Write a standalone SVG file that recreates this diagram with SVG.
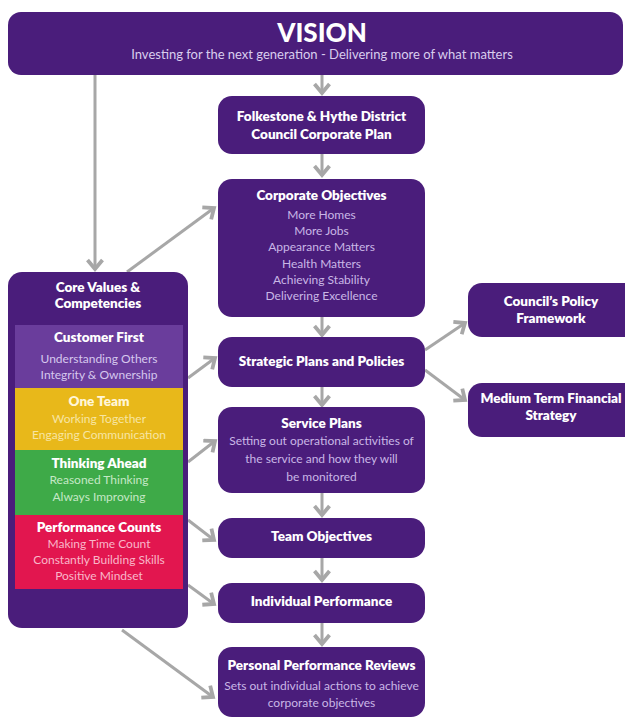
<svg xmlns="http://www.w3.org/2000/svg" width="625" height="720" viewBox="0 0 625 720">
<defs>
<marker id="chev" markerUnits="userSpaceOnUse" markerWidth="18" markerHeight="18" viewBox="0 0 18 18" refX="14" refY="9" orient="auto">
<path d="M5,1.5 L14,9 L5,16.5" fill="none" stroke="#a7a7a7" stroke-width="3.8" stroke-linejoin="miter"/>
</marker>
</defs>
<style>
.box{fill:#4a1d7b}
.t{font-family:Lato,"Open Sans",sans-serif;font-weight:800;fill:#ffffff;text-anchor:middle;font-size:13.5px}
.b{font-family:Lato,"Open Sans",sans-serif;font-weight:400;fill:#c9b7e6;text-anchor:middle;font-size:12px}
.c{stroke:#a7a7a7;stroke-width:3;fill:none}
.a{marker-end:url(#chev)}
</style>
<rect width="625" height="720" fill="#ffffff"/>

<g id="connectors">
<line class="c a" x1="322" y1="75" x2="322" y2="93"/>
<line class="c a" x1="322" y1="154" x2="322" y2="175"/>
<line class="c a" x1="322" y1="317" x2="322" y2="335"/>
<line class="c a" x1="322" y1="387" x2="322" y2="405"/>
<line class="c a" x1="322" y1="493" x2="322" y2="515"/>
<line class="c a" x1="322" y1="558" x2="322" y2="580"/>
<line class="c a" x1="322" y1="623" x2="322" y2="644"/>
<line class="c a" x1="95" y1="75" x2="95" y2="269"/>
<line class="c a" x1="127" y1="272" x2="214" y2="208"/>
<line class="c a" x1="188" y1="378" x2="215" y2="358"/>
<line class="c a" x1="188" y1="462" x2="215" y2="441"/>
<line class="c a" x1="188" y1="520" x2="214" y2="540"/>
<line class="c a" x1="188" y1="585" x2="214" y2="604"/>
<line class="c a" x1="122" y1="630" x2="213" y2="697"/>
<line class="c a" x1="425" y1="350" x2="465" y2="323"/>
<line class="c a" x1="425" y1="370" x2="465" y2="400"/>
</g>

<g id="vision">
<rect class="box" x="8" y="12" width="615" height="63" rx="13"/>
<text class="t" x="322" y="42" style="font-size:26px;font-weight:900">VISION</text>
<text class="b" x="322" y="59" style="font-size:13px;fill:#d9cdee">Investing for the next generation -  Delivering more of what matters</text>
</g>

<g id="corporate-plan">
<rect class="box" x="218" y="96" width="207" height="58" rx="14"/>
<text class="t" x="321.5" y="121">Folkestone &amp; Hythe District</text>
<text class="t" x="321.5" y="139">Council Corporate Plan</text>
</g>

<g id="corporate-objectives">
<rect class="box" x="218" y="179" width="207" height="138" rx="14"/>
<text class="t" x="321.5" y="200">Corporate Objectives</text>
<text class="b" x="321.5" y="219">More Homes</text>
<text class="b" x="321.5" y="235">More Jobs</text>
<text class="b" x="321.5" y="251">Appearance Matters</text>
<text class="b" x="321.5" y="268">Health Matters</text>
<text class="b" x="321.5" y="284">Achieving Stability</text>
<text class="b" x="321.5" y="300">Delivering Excellence</text>
</g>

<g id="strategic-plans">
<rect class="box" x="218" y="337" width="207" height="50" rx="14"/>
<text class="t" x="321.5" y="366">Strategic Plans and Policies</text>
</g>

<g id="service-plans">
<rect class="box" x="218" y="407" width="207" height="86" rx="14"/>
<text class="t" x="321.5" y="428">Service Plans</text>
<text class="b" x="321.5" y="445">Setting out operational activities of</text>
<text class="b" x="321.5" y="463">the service and how they will</text>
<text class="b" x="321.5" y="481">be monitored</text>
</g>

<g id="team-objectives">
<rect class="box" x="218" y="518" width="207" height="40" rx="14"/>
<text class="t" x="321.5" y="541">Team Objectives</text>
</g>

<g id="individual-performance">
<rect class="box" x="218" y="583" width="207" height="40" rx="14"/>
<text class="t" x="321.5" y="606">Individual Performance</text>
</g>

<g id="personal-performance-reviews">
<rect class="box" x="218" y="647" width="207" height="70" rx="14"/>
<text class="t" x="321.5" y="670">Personal Performance Reviews</text>
<text class="b" x="321.5" y="690">Sets out individual actions to achieve</text>
<text class="b" x="321.5" y="707">corporate objectives</text>
</g>

<g id="policy-framework">
<rect class="box" x="468" y="283" width="172" height="54" rx="14"/>
<text class="t" x="551" y="306">Council’s Policy</text>
<text class="t" x="551" y="323">Framework</text>
</g>

<g id="financial-strategy">
<rect class="box" x="468" y="383" width="172" height="54" rx="14"/>
<text class="t" x="551" y="403">Medium Term Financial</text>
<text class="t" x="551" y="420">Strategy</text>
</g>

<g id="core-values">
<rect class="box" x="8" y="272" width="180" height="356" rx="14"/>
<text class="t" x="98" y="292">Core Values &amp;</text>
<text class="t" x="98" y="308">Competencies</text>
<rect x="15" y="325" width="168" height="63" fill="#6a3d9c"/>
<text class="t" x="99" y="342">Customer First</text>
<text class="b" x="99" y="363" style="fill:#d6c8ee">Understanding Others</text>
<text class="b" x="99" y="379" style="fill:#d6c8ee">Integrity &amp; Ownership</text>
<rect x="15" y="388" width="168" height="62" fill="#e8b81a"/>
<text class="t" x="99" y="406" style="fill:#fff6d8">One Team</text>
<text class="b" x="99" y="423" style="fill:#f7e5a3">Working Together</text>
<text class="b" x="99" y="439" style="fill:#f7e5a3">Engaging Communication</text>
<rect x="15" y="450" width="168" height="65" fill="#3eaa48"/>
<text class="t" x="99" y="468">Thinking Ahead</text>
<text class="b" x="99" y="484" style="fill:#c5e8c6">Reasoned Thinking</text>
<text class="b" x="99" y="501" style="fill:#c5e8c6">Always Improving</text>
<rect x="15" y="515" width="168" height="74" fill="#e2164f"/>
<text class="t" x="99" y="532">Performance Counts</text>
<text class="b" x="99" y="548" style="fill:#f9b7c9">Making Time Count</text>
<text class="b" x="99" y="564" style="fill:#f9b7c9">Constantly Building Skills</text>
<text class="b" x="99" y="580" style="fill:#f9b7c9">Positive Mindset</text>
</g>
</svg>
